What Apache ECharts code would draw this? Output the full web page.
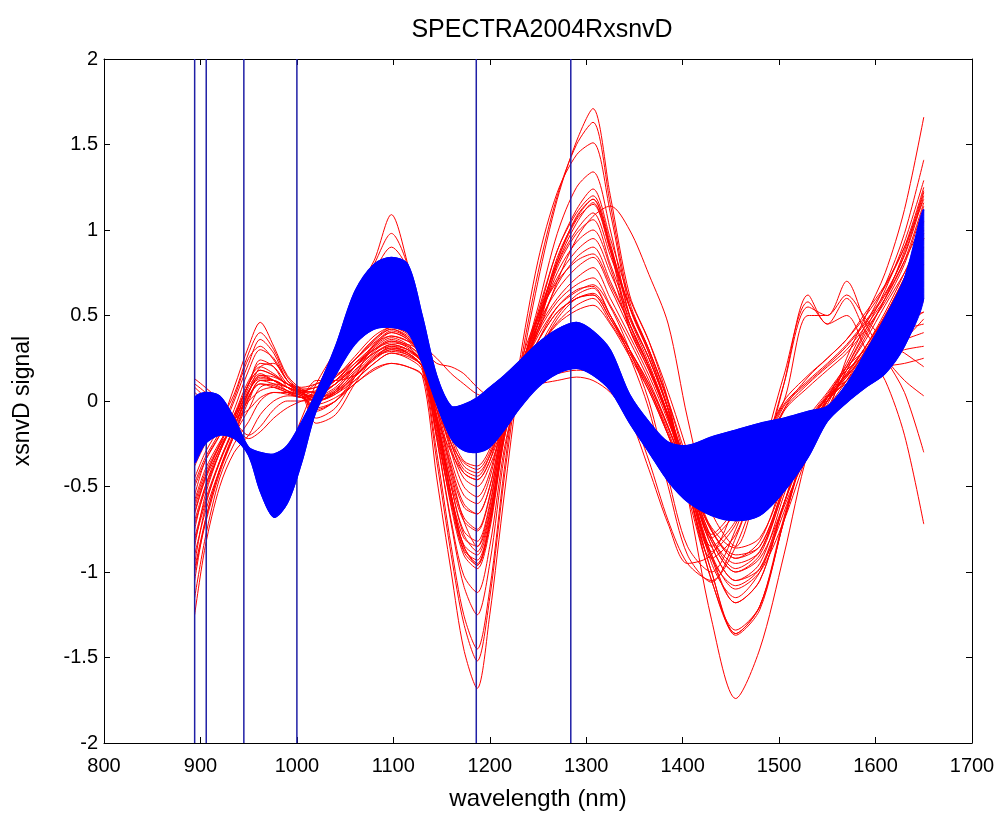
<!DOCTYPE html>
<html>
<head>
<meta charset="utf-8">
<script src="https://cdn.jsdelivr.net/npm/echarts@6/dist/echarts.min.js"></script>
<style>
html,body{margin:0;padding:0;background:#fff;}
#chart{width:1002px;height:814px;}
</style>
</head>
<body>
<div id="chart"></div>
<script>
// wavelength grid (nm)
const WL = [894, 905, 920, 935, 950, 962, 976, 990, 1005, 1020,
            1040, 1060, 1080, 1098, 1115, 1130, 1145, 1160, 1173, 1187,
            1200, 1215, 1230, 1250, 1270, 1290, 1307, 1325, 1345, 1365,
            1385, 1405, 1430, 1455, 1480, 1505, 1530, 1550, 1570, 1590,
            1610, 1630, 1650];

// blue group: envelope of the dense band
const BLUE_UPPER = [0.02, 0.05, 0.03, -0.10, -0.27, -0.30, -0.31, -0.26, -0.12, 0.05,
                    0.32, 0.64, 0.80, 0.84, 0.80, 0.50, 0.15, -0.03, -0.02, 0.02,
                    0.08, 0.15, 0.23, 0.34, 0.42, 0.46, 0.41, 0.30, 0.04, -0.12,
                    -0.24, -0.26, -0.21, -0.17, -0.13, -0.10, -0.06, -0.03, 0.10, 0.29,
                    0.49, 0.72, 1.12];
const BLUE_LOWER = [-0.36, -0.25, -0.20, -0.22, -0.32, -0.53, -0.68, -0.60, -0.36, -0.06,
                    0.15, 0.33, 0.42, 0.43, 0.40, 0.22, -0.02, -0.22, -0.29, -0.30,
                    -0.27, -0.17, -0.05, 0.08, 0.16, 0.19, 0.15, 0.06, -0.13, -0.30,
                    -0.47, -0.59, -0.67, -0.70, -0.67, -0.53, -0.33, -0.12, -0.01, 0.08,
                    0.16, 0.32, 0.60];

// red group: individual spectra
const RED_01 = [-1.25, -0.85, -0.5, -0.3, -0.2, -0.08, 0.0, 0.03, 0.02, -0.06,
                0.0, 0.1, 0.18, 0.22, 0.2, 0.15, -0.45, -1.0, -1.45, -1.68,
                -1.25, -0.55, 0.1, 0.7, 1.18, 1.52, 1.71, 1.2, 0.62, 0.35,
                0.0, -0.55, -1.28, -1.74, -1.45, -0.9, -0.3, -0.08, 0.25, 0.5,
                0.75, 1.12, 1.66];
const RED_02 = [-1.15, -0.8, -0.45, -0.25, -0.12, 0.0, 0.05, 0.05, 0.03, -0.04,
                0.0, 0.12, 0.22, 0.28, 0.25, 0.18, -0.35, -0.9, -1.3, -1.52,
                -1.15, -0.45, 0.15, 0.75, 1.2, 1.5, 1.63, 1.15, 0.58, 0.3,
                -0.02, -0.5, -1.0, -1.36, -1.2, -0.68, -0.22, 0.02, 0.22, 0.45,
                0.68, 0.98, 1.41];
const RED_03 = [-1.05, -0.7, -0.4, -0.2, -0.05, 0.08, 0.1, 0.08, 0.05, 0.02,
                0.05, 0.15, 0.25, 0.32, 0.28, 0.2, -0.3, -0.85, -1.25, -1.45,
                -1.1, -0.4, 0.2, 0.82, 1.22, 1.44, 1.51, 1.1, 0.55, 0.28,
                -0.05, -0.5, -1.0, -1.37, -1.22, -0.7, -0.24, 0.0, 0.2, 0.42,
                0.65, 0.93, 1.29];
const RED_04 = [-0.95, -0.62, -0.35, -0.15, 0.05, 0.2, 0.22, 0.12, 0.06, 0.08,
                0.12, 0.2, 0.3, 0.36, 0.32, 0.22, -0.22, -0.72, -1.08, -1.25,
                -0.95, -0.32, 0.12, 0.55, 0.98, 1.25, 1.34, 1.0, 0.5, 0.25,
                -0.05, -0.48, -0.92, -1.18, -1.05, -0.6, -0.2, 0.02, 0.2, 0.4,
                0.6, 0.88, 1.23];
const RED_05 = [-0.85, -0.55, -0.3, -0.1, 0.1, 0.18, 0.15, 0.1, 0.08, 0.1,
                0.14, 0.24, 0.35, 0.42, 0.38, 0.28, -0.1, -0.55, -0.85, -0.95,
                -0.72, -0.2, 0.15, 0.5, 0.88, 1.1, 1.2, 0.92, 0.5, 0.25,
                -0.05, -0.42, -0.85, -1.05, -0.95, -0.55, -0.15, 0.02, 0.15, 0.32,
                0.52, 0.75, 1.0];
const RED_06 = [-0.75, -0.5, -0.28, -0.12, 0.08, 0.16, 0.12, 0.08, 0.05, 0.0,
                0.06, 0.2, 0.33, 0.41, 0.37, 0.27, -0.12, -0.57, -0.87, -0.93,
                -0.7, -0.18, 0.15, 0.46, 0.84, 1.07, 1.18, 0.9, 0.45, 0.2,
                -0.08, -0.4, -0.8, -0.95, -0.88, -0.52, -0.14, 0.02, 0.14, 0.3,
                0.48, 0.7, 0.9];
const RED_07 = [-0.65, -0.45, -0.26, -0.14, 0.05, 0.15, 0.14, 0.1, 0.06, 0.05,
                0.1, 0.2, 0.32, 0.4, 0.36, 0.26, -0.1, -0.55, -0.85, -0.96,
                -0.72, -0.2, 0.12, 0.42, 0.8, 1.04, 1.16, 0.88, 0.42, 0.18,
                -0.1, -0.4, -0.76, -0.9, -0.85, -0.5, -0.14, 0.0, 0.12, 0.27,
                0.44, 0.62, 0.8];
const RED_08 = [-0.55, -0.35, -0.2, -0.08, 0.1, 0.24, 0.2, 0.08, 0.04, 0.12,
                0.12, 0.15, 0.25, 0.3, 0.27, 0.2, -0.05, -0.4, -0.62, -0.66,
                -0.5, -0.1, 0.15, 0.4, 0.7, 0.95, 1.08, 1.14, 1.0, 0.74,
                0.45, -0.1, -0.65, -0.85, -0.45, -0.05, 0.14, 0.25, 0.36, 0.52,
                0.68, 0.9, 1.18];
const RED_09 = [0.1, 0.05, -0.05, -0.2, -0.3, -0.38, -0.42, -0.38, -0.2, 0.05,
                0.3, 0.62, 0.82, 1.09, 0.8, 0.45, 0.05, -0.25, -0.42, -0.46,
                -0.35, -0.12, 0.08, 0.3, 0.5, 0.62, 0.66, 0.5, 0.3, 0.1,
                -0.15, -0.45, -0.85, -1.05, -0.98, -0.65, -0.25, -0.02, 0.18, 0.38,
                0.6, 0.82, 1.05];
const RED_10 = [0.13, 0.08, 0.0, -0.15, -0.28, -0.35, -0.4, -0.35, -0.15, 0.06,
                0.3, 0.6, 0.8, 0.98, 0.79, 0.42, 0.02, -0.28, -0.45, -0.5,
                -0.38, -0.15, 0.06, 0.28, 0.48, 0.6, 0.62, 0.48, 0.28, 0.08,
                -0.18, -0.48, -0.9, -1.1, -1.0, -0.7, -0.3, -0.05, 0.18, 0.36,
                0.56, 0.75, 0.95];
const RED_11 = [0.08, 0.02, -0.08, -0.2, -0.3, -0.35, -0.38, -0.3, -0.1, 0.1,
                0.3, 0.58, 0.76, 0.9, 0.77, 0.42, 0.05, -0.22, -0.38, -0.42,
                -0.32, -0.1, 0.1, 0.3, 0.46, 0.56, 0.6, 0.46, 0.28, 0.06,
                -0.2, -0.46, -0.82, -1.0, -0.92, -0.6, -0.2, 0.0, 0.16, 0.32,
                0.5, 0.72, 0.95];
const RED_12 = [-0.45, -0.3, -0.15, 0.08, 0.32, 0.46, 0.32, 0.15, 0.07, 0.05,
                0.12, 0.24, 0.36, 0.43, 0.4, 0.3, 0.0, -0.3, -0.5, -0.56,
                -0.42, -0.08, 0.18, 0.45, 0.65, 0.78, 0.84, 0.66, 0.42, 0.2,
                -0.08, -0.38, -0.75, -0.92, -0.82, -0.45, -0.1, 0.05, 0.2, 0.3,
                0.4, 0.48, 0.52];
const RED_13 = [-0.5, -0.35, -0.2, 0.0, 0.22, 0.36, 0.28, 0.12, 0.06, -0.1,
                -0.04, 0.14, 0.33, 0.38, 0.35, 0.25, -0.05, -0.38, -0.6, -0.66,
                -0.5, -0.12, 0.15, 0.42, 0.6, 0.72, 0.78, 0.6, 0.38, 0.15,
                -0.12, -0.42, -0.8, -0.98, -0.88, -0.5, -0.12, 0.04, 0.18, 0.27,
                0.36, 0.42, 0.45];
const RED_14 = [-0.6, -0.42, -0.25, -0.05, 0.18, 0.3, 0.25, 0.12, 0.05, 0.02,
                0.07, 0.18, 0.28, 0.33, 0.3, 0.22, -0.08, -0.42, -0.7, -0.85,
                -0.62, -0.15, 0.12, 0.4, 0.58, 0.68, 0.72, 0.56, 0.35, 0.12,
                -0.15, -0.45, -0.82, -1.0, -0.9, -0.52, -0.15, 0.03, 0.15, 0.25,
                0.32, 0.36, 0.4];
const RED_15 = [-0.7, -0.5, -0.3, -0.1, 0.1, 0.22, 0.2, 0.1, 0.04, -0.13,
                -0.08, 0.1, 0.25, 0.29, 0.27, 0.2, -0.1, -0.3, -0.42, -0.46,
                -0.35, -0.05, 0.15, 0.35, 0.52, 0.6, 0.62, 0.48, 0.3, 0.1,
                -0.16, -0.44, -0.76, -0.92, -0.85, -0.5, -0.14, 0.03, 0.12, 0.2,
                0.26, 0.3, 0.32];
const RED_16 = [-0.8, -0.58, -0.35, -0.15, 0.05, 0.15, 0.12, 0.06, 0.02, -0.02,
                0.02, 0.1, 0.19, 0.22, 0.2, 0.15, -0.05, -0.25, -0.36, -0.4,
                -0.3, -0.05, 0.12, 0.3, 0.45, 0.53, 0.56, 0.45, 0.26, 0.06,
                -0.2, -0.46, -0.74, -0.86, -0.8, -0.48, -0.12, 0.02, 0.1, 0.15,
                0.2, 0.22, 0.25];
const RED_17 = [0.05, 0.0, -0.05, -0.12, -0.2, -0.15, -0.05, 0.0, 0.0, 0.02,
                0.1, 0.2, 0.3, 0.35, 0.33, 0.3, 0.22, 0.2, 0.16, 0.08,
                0.03, 0.05, 0.09, 0.13, 0.16, 0.18, 0.17, 0.1, -0.05, -0.35,
                -0.7, -0.95, -1.05, -0.85, -0.45, 0.1, 0.62, 0.45, 0.5, 0.3,
                0.12, -0.2, -0.72];
const RED_18 = [0.0, -0.05, -0.1, -0.15, -0.22, -0.18, -0.1, -0.04, 0.0, 0.03,
                0.1, 0.22, 0.32, 0.38, 0.35, 0.32, 0.25, 0.16, 0.1, 0.04,
                0.02, 0.04, 0.08, 0.1, 0.12, 0.14, 0.12, 0.05, -0.1, -0.4,
                -0.72, -0.95, -0.9, -0.6, -0.25, 0.0, 0.5, 0.5, 0.7, 0.45,
                0.25, 0.05, -0.3];
const RED_19 = [-0.9, -0.65, -0.4, -0.2, 0.0, 0.12, 0.12, 0.08, 0.04, 0.02,
                0.06, 0.16, 0.27, 0.33, 0.3, 0.22, -0.15, -0.55, -0.8, -0.85,
                -0.65, -0.18, 0.15, 0.45, 0.75, 0.93, 1.0, 0.78, 0.42, 0.18,
                -0.1, -0.45, -0.9, -1.18, -1.05, -0.6, -0.18, 0.0, 0.12, 0.25,
                0.36, 0.45, 0.52];
const RED_20 = [-1.0, -0.72, -0.42, -0.2, 0.02, 0.1, 0.08, 0.05, 0.02, 0.0,
                0.04, 0.12, 0.22, 0.28, 0.26, 0.2, -0.2, -0.6, -0.88, -0.96,
                -0.72, -0.22, 0.08, 0.35, 0.55, 0.65, 0.67, 0.5, 0.3, 0.08,
                -0.2, -0.55, -1.05, -1.36, -1.2, -0.7, -0.22, 0.0, 0.14, 0.28,
                0.4, 0.5, 0.58];
const RED_21 = [-0.62, -0.44, -0.26, -0.08, 0.12, 0.2, 0.16, 0.1, 0.06, 0.03,
                0.08, 0.2, 0.31, 0.37, 0.33, 0.24, -0.12, -0.5, -0.76, -0.82,
                -0.6, -0.15, 0.14, 0.5, 0.8, 1.0, 1.1, 0.85, 0.55, 0.3,
                0.0, -0.35, -0.8, -0.65, -0.32, -0.02, 0.12, 0.22, 0.33, 0.47,
                0.63, 0.85, 1.2];
const RED_22 = [-0.48, -0.33, -0.18, 0.02, 0.25, 0.32, 0.24, 0.12, 0.05, 0.0,
                0.05, 0.17, 0.29, 0.35, 0.31, 0.22, -0.1, -0.45, -0.68, -0.75,
                -0.55, -0.12, 0.16, 0.48, 0.72, 0.88, 0.95, 0.75, 0.48, 0.22,
                -0.08, -0.45, -0.88, -0.72, -0.36, -0.05, 0.1, 0.2, 0.3, 0.44,
                0.6, 0.82, 1.16];
const RED_23 = [-0.72, -0.52, -0.3, -0.12, 0.06, 0.14, 0.12, 0.08, 0.05, 0.06,
                0.12, 0.24, 0.36, 0.42, 0.37, 0.26, -0.15, -0.62, -0.9, -0.98,
                -0.75, -0.22, 0.12, 0.52, 0.88, 1.12, 1.24, 0.95, 0.6, 0.35,
                0.05, -0.3, -0.78, -0.62, -0.3, 0.0, 0.15, 0.25, 0.36, 0.5,
                0.67, 0.9, 1.25];
const RED_24 = [-0.38, -0.25, -0.12, 0.04, 0.28, 0.4, 0.3, 0.14, 0.07, 0.08,
                0.14, 0.26, 0.38, 0.43, 0.39, 0.28, -0.02, -0.35, -0.55, -0.6,
                -0.45, -0.08, 0.2, 0.5, 0.7, 0.82, 0.86, 0.68, 0.45, 0.2,
                -0.1, -0.48, -0.92, -0.78, -0.4, -0.06, 0.08, 0.18, 0.28, 0.42,
                0.58, 0.8, 1.14];
const RED_25 = [-0.82, -0.6, -0.36, -0.16, 0.03, 0.1, 0.09, 0.06, 0.03, -0.05,
                0.0, 0.14, 0.26, 0.31, 0.29, 0.22, -0.18, -0.58, -0.84, -0.9,
                -0.68, -0.2, 0.1, 0.45, 0.78, 0.98, 1.06, 0.8, 0.5, 0.25,
                -0.05, -0.4, -0.85, -0.7, -0.35, -0.03, 0.11, 0.21, 0.32, 0.46,
                0.62, 0.86, 1.22];
const RED_26 = [-0.58, -0.4, -0.24, -0.1, 0.1, 0.18, 0.15, 0.1, 0.05, 0.1,
                0.15, 0.24, 0.34, 0.4, 0.36, 0.25, -0.1, -0.5, -0.78, -0.88,
                -0.66, -0.18, 0.14, 0.48, 0.82, 1.06, 1.15, 0.88, 0.55, 0.3,
                0.0, -0.4, -0.95, -1.15, -1.0, -0.62, -0.3, -0.05, 0.12, 0.3,
                0.5, 0.72, 0.95];
const RED_27 = [-0.66, -0.46, -0.28, -0.12, 0.06, 0.13, 0.12, 0.08, 0.04, 0.0,
                0.04, 0.14, 0.24, 0.3, 0.28, 0.2, -0.14, -0.48, -0.7, -0.76,
                -0.56, -0.14, 0.12, 0.42, 0.68, 0.84, 0.9, 0.7, 0.45, 0.2,
                -0.1, -0.48, -0.92, -1.08, -0.98, -0.6, -0.25, -0.06, 0.08, 0.18,
                0.26, 0.36, 0.48];
const RED_28 = [-0.98, -0.7, -0.4, -0.18, 0.02, 0.12, 0.1, 0.06, 0.03, 0.0,
                0.05, 0.14, 0.25, 0.31, 0.28, 0.2, -0.22, -0.7, -1.02, -1.12,
                -0.85, -0.28, 0.08, 0.45, 0.82, 1.08, 1.18, 0.9, 0.55, 0.28,
                -0.05, -0.5, -1.05, -1.34, -1.2, -0.7, -0.22, 0.0, 0.16, 0.32,
                0.5, 0.72, 0.98];
const RED_29 = [-0.2, -0.15, -0.12, -0.1, -0.05, 0.02, 0.05, 0.04, 0.02, 0.05,
                0.12, 0.22, 0.3, 0.34, 0.32, 0.26, 0.05, -0.2, -0.35, -0.38,
                -0.28, -0.04, 0.14, 0.38, 0.55, 0.64, 0.68, 0.55, 0.3, 0.0,
                -0.45, -0.85, -1.0, -0.75, -0.35, 0.15, 0.58, 0.45, 0.6, 0.4,
                0.25, 0.12, 0.03];
const RED_30 = [-0.25, -0.2, -0.15, -0.08, 0.0, 0.06, 0.08, 0.05, 0.02, 0.04,
                0.1, 0.2, 0.28, 0.32, 0.3, 0.24, 0.02, -0.25, -0.4, -0.44,
                -0.32, -0.06, 0.12, 0.35, 0.52, 0.6, 0.63, 0.5, 0.26, -0.05,
                -0.5, -0.9, -1.06, -0.8, -0.4, 0.1, 0.55, 0.5, 0.62, 0.48,
                0.35, 0.28, 0.2];

const RED_CURVES = [RED_01, RED_02, RED_03, RED_04, RED_05, RED_06, RED_07, RED_08, RED_09, RED_10,
                    RED_11, RED_12, RED_13, RED_14, RED_15, RED_16, RED_17, RED_18, RED_19, RED_20,
                    RED_21, RED_22, RED_23, RED_24, RED_25, RED_26, RED_27, RED_28, RED_29, RED_30];

// vertical marker lines (nm)
const VLINES = [894, 906, 945, 1000, 1186, 1284];

const X_MIN = 800, X_MAX = 1700, X_STEP = 100;
const Y_MIN = -2, Y_MAX = 2, Y_STEP = 0.5;

const FONT = 'Liberation Sans, Arial, sans-serif';

const pairs = (ys) => WL.map((x, i) => [x, ys[i]]);

const series = [];
RED_CURVES.forEach((c, k) => {
  series.push({
    name: 'red' + (k + 1), type: 'line', data: pairs(c), smooth: 0.3,
    symbol: 'none', z: 2, silent: true,
    lineStyle: { color: '#ff0000', width: 1 }
  });
});
VLINES.forEach((v, k) => {
  series.push({
    name: 'v' + k, type: 'line', data: [[v, Y_MIN], [v, Y_MAX]],
    symbol: 'none', z: 3, silent: true,
    lineStyle: { color: '#1f1fa6', width: 1.5 }
  });
});
// blue band drawn as a polygon between the two envelopes via the axis scales
series.push({
  name: 'blueBand', type: 'custom', coordinateSystem: 'cartesian2d',
  xAxisIndex: 0, yAxisIndex: 0, z: 4, silent: true, clip: true,
  data: [[WL[0], BLUE_UPPER[0]]],
  renderItem: function (params, api) {
    const up = WL.map((x, i) => api.coord([x, BLUE_UPPER[i]]));
    const lo = WL.map((x, i) => api.coord([x, BLUE_LOWER[i]])).reverse();
    const a = api.coord([WL[0], Y_MAX]);
    const b = api.coord([WL[WL.length - 1], Y_MIN]);
    const cons = [[a[0], a[1]], [b[0], b[1]]];
    return {
      type: 'group',
      children: [
        { type: 'polyline', shape: { points: up, smooth: 0.3, smoothConstraint: cons },
          style: { stroke: '#0000ff', lineWidth: 1.2, fill: null } },
        { type: 'polyline', shape: { points: lo, smooth: 0.3, smoothConstraint: cons },
          style: { stroke: '#0000ff', lineWidth: 1.2, fill: null } },
        { type: 'polygon', shape: { points: up.concat(lo), smooth: 0.3, smoothConstraint: cons },
          style: { fill: '#0000ff', stroke: '#0000ff', lineWidth: 1 } }
      ]
    };
  }
});

const chart = echarts.init(document.getElementById('chart'), null, { renderer: 'canvas' });
chart.setOption({
  animation: false,
  backgroundColor: '#ffffff',
  title: {
    text: 'SPECTRA2004RxsnvD', left: 537, top: 13, textAlign: 'center',
    textStyle: { fontFamily: FONT, fontSize: 25, fontWeight: 'normal', color: '#000' }
  },
  grid: { left: 104, right: 30, top: 59, bottom: 71, containLabel: false, outerBoundsMode: 'none' },
  xAxis: [{
    type: 'value', min: X_MIN, max: X_MAX, interval: X_STEP, position: 'bottom',
    name: 'wavelength (nm)', nameLocation: 'middle', nameGap: 44,
    nameTextStyle: { fontFamily: FONT, fontSize: 24, color: '#000' },
    axisLine: { show: true, onZero: false, lineStyle: { color: '#000', width: 1 } },
    axisTick: { show: true, inside: true, length: 6, lineStyle: { color: '#000' } },
    axisLabel: { fontFamily: FONT, fontSize: 20, color: '#000', margin: 13,
                 formatter: (v) => String(v) },
    splitLine: { show: false }
  }, {
    type: 'value', min: X_MIN, max: X_MAX, interval: X_STEP, position: 'top',
    axisLine: { show: true, onZero: false, lineStyle: { color: '#000', width: 1 } },
    axisTick: { show: true, inside: true, length: 6, lineStyle: { color: '#000' } },
    axisLabel: { show: false }, splitLine: { show: false }
  }],
  yAxis: [{
    type: 'value', min: Y_MIN, max: Y_MAX, interval: Y_STEP, position: 'left',
    name: 'xsnvD signal', nameLocation: 'middle', nameGap: 70, nameRotate: 90,
    nameTextStyle: { fontFamily: FONT, fontSize: 23, color: '#000' },
    axisLine: { show: true, onZero: false, lineStyle: { color: '#000', width: 1 } },
    axisTick: { show: true, inside: true, length: 6, lineStyle: { color: '#000' } },
    axisLabel: { fontFamily: FONT, fontSize: 20, color: '#000', margin: 6,
                 formatter: (v) => String(v) },
    splitLine: { show: false }
  }, {
    type: 'value', min: Y_MIN, max: Y_MAX, interval: Y_STEP, position: 'right',
    axisLine: { show: true, onZero: false, lineStyle: { color: '#000', width: 1 } },
    axisTick: { show: true, inside: true, length: 6, lineStyle: { color: '#000' } },
    axisLabel: { show: false }, splitLine: { show: false }
  }],
  series: series
});
</script>
</body>
</html>
